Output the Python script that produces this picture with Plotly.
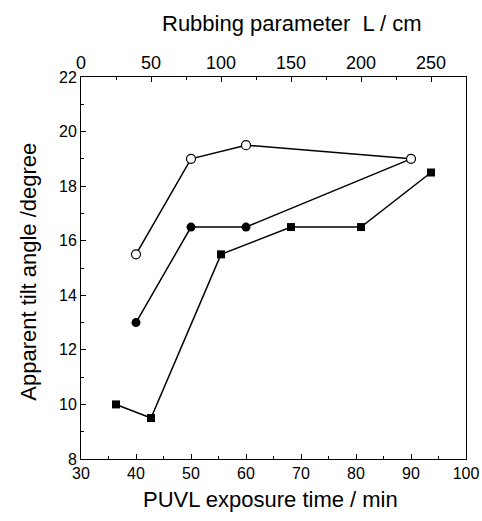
import plotly.graph_objects as go

# PUVL exposure time (bottom axis) series
puvl_time = [40, 50, 60, 90]
tilt_open = [15.5, 19.0, 19.5, 19.0]
tilt_filled = [13.0, 16.5, 16.5, 19.0]

# Rubbing parameter (top axis) series
rub_L = [25, 50, 100, 150, 200, 250]
tilt_square = [10.0, 9.5, 15.5, 16.5, 16.5, 18.5]

FONT = "Arial, Liberation Sans, sans-serif"

fig = go.Figure()
fig.add_trace(go.Scatter(
    x=rub_L, y=tilt_square, xaxis="x2", yaxis="y", mode="lines+markers",
    line=dict(color="black", width=1.5),
    marker=dict(symbol="square", size=8, color="black"),
    showlegend=False))
fig.add_trace(go.Scatter(
    x=puvl_time, y=tilt_filled, mode="lines+markers",
    line=dict(color="black", width=1.5),
    marker=dict(symbol="circle", size=9, color="black"),
    showlegend=False))
fig.add_trace(go.Scatter(
    x=puvl_time, y=tilt_open, mode="lines+markers",
    line=dict(color="black", width=1.5),
    marker=dict(symbol="circle", size=9, color="white",
                line=dict(color="black", width=1.2)),
    showlegend=False))

axis_common = dict(showgrid=False, zeroline=False, linecolor="black",
                   linewidth=1, ticks="inside", tickcolor="black",
                   ticklen=5, tickwidth=1, automargin=False)

fig.update_layout(
    width=482, height=521, autosize=False,
    margin=dict(l=81, r=16, t=77, b=62),
    paper_bgcolor="white", plot_bgcolor="white",
    font=dict(family=FONT, color="black"),
    xaxis=dict(range=[30, 100], dtick=10, tick0=30, showline=True,
               mirror=False, tickfont=dict(size=16),
               minor=dict(dtick=5, ticks="inside", ticklen=3, tickcolor="black"),
               **axis_common),
    xaxis2=dict(range=[0, 275], dtick=50, tick0=0, overlaying="x",
                side="top", showline=True, tickfont=dict(size=18),
                minor=dict(dtick=25, ticks="inside", ticklen=3, tickcolor="black"),
                **axis_common),
    yaxis=dict(range=[8, 22], dtick=2, tick0=8, showline=True, mirror=True,
               tickfont=dict(size=16),
               minor=dict(dtick=1, ticks="inside", ticklen=3, tickcolor="black"),
               **axis_common),
    annotations=[
        dict(text="PUVL exposure time / min", xref="paper", yref="paper",
             x=(270 - 81) / 385, y=0, yshift=-40, xanchor="center", yanchor="middle",
             showarrow=False, font=dict(size=22, family=FONT)),
        dict(text="Rubbing parameter  L / cm", xref="paper", yref="paper",
             x=(292 - 81) / 385, y=1, yshift=54, xanchor="center", yanchor="middle",
             showarrow=False, font=dict(size=22, family=FONT)),
        dict(text="Apparent tilt angle /degree", xref="paper", yref="paper",
             x=0, y=(459.5 - 272) / 382.5, xshift=-52, xanchor="center",
             yanchor="middle", textangle=-90,
             showarrow=False, font=dict(size=22, family=FONT)),
    ],
)

fig.write_html(
    "out.html",
    config={"responsive": False, "displayModeBar": False},
    post_script="document.body.style.margin='0px';document.body.style.overflow='hidden';",
)
